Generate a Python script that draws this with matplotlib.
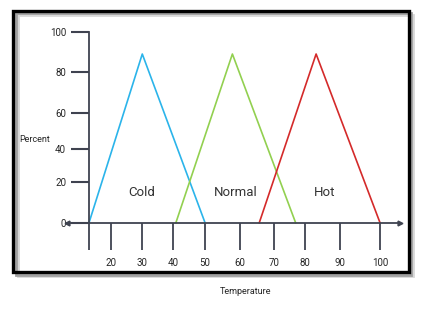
import matplotlib
matplotlib.use('Agg')
import matplotlib.pyplot as plt
from matplotlib.patches import Rectangle

plt.rcParams['font.family'] = ['Roboto', 'DejaVu Sans']

# x positions are in the drawing's own temperature units (the axis is hand-spaced)
x_ticks = [13.46, 20, 29.22, 38.44, 47.96, 58.36, 68.48, 77.70, 88.10, 100]
x_labels = ['', '20', '30', '40', '50', '60', '70', '80', '90', '100']
y_ticks = [0, 21.4, 38.7, 57.6, 79.1, 100]
y_labels = ['0', '20', '40', '60', '80', '100']

cold_x = [13.46, 29.3, 47.96]
normal_x = [39.3, 56.1, 74.9]
hot_x = [64.1, 81.0, 100]
tri_y = [0, 88.6, 0]

names = ['Cold', 'Normal', 'Hot']
name_x = [29.2, 57.2, 83.6]
name_y = 16.1

W, H = 423, 323
fig = plt.figure(figsize=(W / 100, H / 100), dpi=100)

# frame with a soft shadow
for off, col in [(4, '#d8d8d8'), (2.5, '#a0a0a0')]:
    fig.patches.append(Rectangle(((13.5 + off) / W, 1 - (272.3 + off) / H),
                                 395 / W, 261.8 / H, transform=fig.transFigure,
                                 fill=False, edgecolor=col, linewidth=2.0))
fig.patches.append(Rectangle((13.2 / W, 1 - 272.3 / H), 395.3 / W, 261.8 / H,
                             transform=fig.transFigure, fill=False,
                             edgecolor='black', linewidth=2.4))

ax = fig.add_axes([67 / W, 100.3 / H, 333 / W, 190.4 / H])
ax.set_xlim(6.91, 105.95)
ax.set_ylim(0, 100)
ax.patch.set_alpha(0)

axc = '#3f4350'
txt = '#262626'
for s in ['top', 'right']:
    ax.spines[s].set_visible(False)
ax.spines['left'].set_position(('data', x_ticks[0]))
ax.spines['left'].set_color(axc)
ax.spines['bottom'].set_color(axc)
ax.spines['left'].set_linewidth(1.3)
ax.spines['bottom'].set_linewidth(1.3)

ax.set_xticks(x_ticks, x_labels)
ax.set_yticks(y_ticks, y_labels)
ax.tick_params(axis='y', direction='out', length=13, width=1.5, color=axc,
               pad=3.5, labelsize=7, labelcolor=txt)
ax.tick_params(axis='x', direction='out', length=19.5, width=1.3, color=axc,
               pad=6, labelsize=7, labelcolor=txt)

ax.plot([6.91], [0], marker='<', color=axc, markersize=3.5, clip_on=False)
ax.plot([105.95], [0], marker='>', color=axc, markersize=3.5, clip_on=False)

ax.plot(cold_x, tri_y, color='#2bb4ea', linewidth=1.2, clip_on=False)
ax.plot(normal_x, tri_y, color='#92d050', linewidth=1.2, clip_on=False)
ax.plot(hot_x, tri_y, color='#d42a2a', linewidth=1.2, clip_on=False)

for n, xx in zip(names, name_x):
    ax.text(xx, name_y, n, ha='center', va='center', fontsize=9.5, color='#333333')

fig.text(35 / W, 1 - 139 / H, 'Percent', ha='center', va='center', fontsize=6.5,
         color=txt)
fig.text(246 / W, 1 - 292 / H, 'Temperature', ha='center', va='center', fontsize=6.5,
         color=txt)

fig.savefig('out.png', dpi=100)
